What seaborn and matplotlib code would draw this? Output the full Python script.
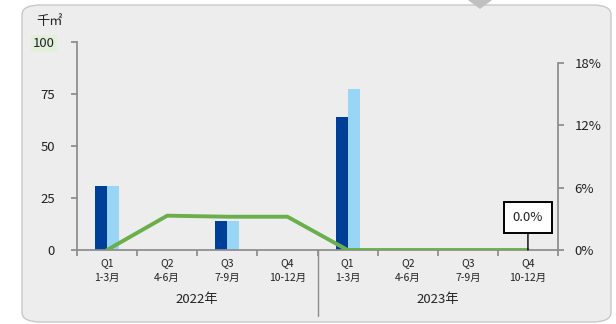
import numpy as np
import pandas as pd
import matplotlib.pyplot as plt
import seaborn as sns
from matplotlib.patches import FancyBboxPatch, Polygon

# data
quarters = ["Q1", "Q2", "Q3", "Q4", "Q1", "Q2", "Q3", "Q4"]
months = ["1-3月", "4-6月", "7-9月", "10-12月", "1-3月", "4-6月", "7-9月", "10-12月"]
years = ["2022年", "2023年"]
series_a = [31, 0, 14, 0, 64, 0, 0, 0]
series_b = [31, -0.5, 14, 0, 77.5, 0, 0, 0]
rate = [0.0, 3.3, 3.2, 3.2, 0.0, 0.0, 0.0, 0.0]
left_ticks = [0, 25, 50, 75, 100]
right_ticks = [0, 6, 12, 18]

sns.set_theme(style="white")
plt.rcParams["font.family"] = ["Noto Sans CJK JP", "DejaVu Sans"]

bg = "#ededed"
dark = "#003f98"
light = "#99d5f5"
green = "#6aaf4c"
axis_col = "#8c8c8c"

pos = np.arange(len(quarters))
df = pd.DataFrame({
    "pos": np.concatenate([pos, pos]),
    "value": series_a + series_b,
    "series": ["A"] * len(pos) + ["B"] * len(pos),
})

fig = plt.figure(figsize=(6.16, 3.24), dpi=100)
fig.patch.set_facecolor("white")
panel = FancyBboxPatch((22 / 616, 2 / 324), 589 / 616, 317 / 324,
                       boxstyle="round,pad=0,rounding_size=0.03",
                       transform=fig.transFigure, facecolor=bg,
                       edgecolor="#c8c8c8", lw=1.0, zorder=-10)
fig.patches.append(panel)
tri = Polygon([(468 / 616, 1.0), (492 / 616, 1.0), (480 / 616, 1 - 9 / 324)],
              closed=True, transform=fig.transFigure, facecolor="#c0c0c0",
              edgecolor="none", zorder=-5)
fig.patches.append(tri)

ax = fig.add_axes([77 / 616, 1 - 250 / 324, 481 / 616, 208 / 324])
ax.set_facecolor("none")
sns.barplot(data=df, x="pos", y="value", hue="series", order=list(pos),
            palette=[dark, light], width=0.4, ax=ax, legend=False,
            saturation=1, linewidth=0, edgecolor="none")
ax.set_xlim(-0.5, len(pos) - 0.5)
ax.set_ylim(0, 100)
ax.set_yticks(left_ticks)
ax.set_yticklabels([str(t) for t in left_ticks], fontsize=9.5, color="#222222")
ax.tick_params(axis="y", length=4, color=axis_col, pad=12, left=True)
ax.set_xlabel("")
ax.set_ylabel("")
for s in ["top", "right"]:
    ax.spines[s].set_visible(False)
ax.spines["left"].set_color(axis_col)
ax.spines["bottom"].set_color(axis_col)
ax.spines["bottom"].set_bounds(-0.5, len(pos) - 0.5)
ax.set_xticks(np.arange(-0.5, len(pos), 1.0))
ax.set_xticklabels([])
ax.tick_params(axis="x", length=4, color=axis_col, bottom=True)

# highlighted 100 label
for lbl in ax.get_yticklabels():
    if lbl.get_text() == "100":
        lbl.set_bbox(dict(facecolor="#e2efda", edgecolor="none", pad=1.5))

# category labels
for i in pos:
    ax.text(i, -0.062, quarters[i], transform=ax.get_xaxis_transform(),
            ha="center", va="center", fontsize=7.5, color="#222222")
    ax.text(i, -0.132, months[i], transform=ax.get_xaxis_transform(),
            ha="center", va="center", fontsize=7.5, color="#222222")
for k, yr in enumerate(years):
    ax.text(1.5 + 4 * k, -0.24, yr, transform=ax.get_xaxis_transform(),
            ha="center", va="center", fontsize=9.5, color="#222222")
ax.plot([3.5, 3.5], [0, -0.315], transform=ax.get_xaxis_transform(),
        color=axis_col, lw=1.0, clip_on=False)

fig.text(36 / 616, 1 - 21 / 324, "千㎡", ha="left", va="center",
         fontsize=9.5, color="#222222")

# line on secondary axis
ax2 = ax.twinx()
sns.lineplot(x=pos, y=rate, ax=ax2, color=green, lw=2.8, legend=False)
ax2.set_ylim(0, 20)
ax2.set_yticks(right_ticks)
ax2.set_yticklabels([f"{t}%" for t in right_ticks], fontsize=9.5, color="#222222")
ax2.tick_params(axis="y", length=4, color=axis_col, right=True, pad=8)
ax2.set_ylabel("")
for s in ["top", "left", "bottom"]:
    ax2.spines[s].set_visible(False)
ax2.spines["right"].set_color(axis_col)
ax2.spines["right"].set_bounds(0, 18)

ax2.annotate(f"{rate[-1]:.1f}%", xy=(pos[-1], rate[-1]), xytext=(pos[-1], 3.1),
             ha="center", va="center", fontsize=9.5, color="#222222",
             bbox=dict(boxstyle="square,pad=0.7", facecolor="white",
                       edgecolor="black", lw=1.4),
             arrowprops=dict(arrowstyle="-", color="black", lw=1.0,
                             shrinkA=0, shrinkB=0))

fig.savefig("out.png", dpi=100)
